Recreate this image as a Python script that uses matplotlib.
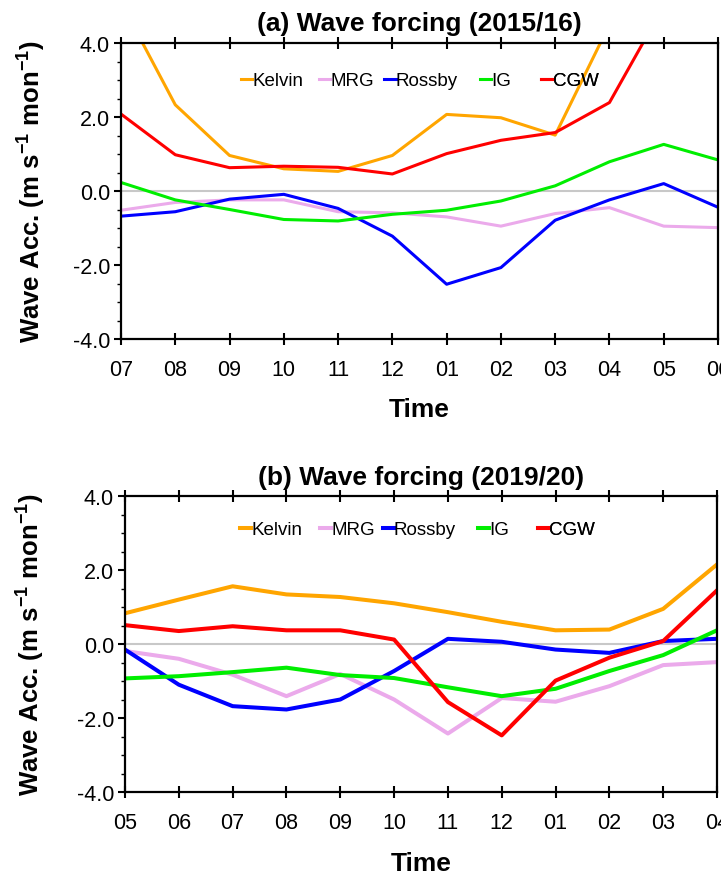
import matplotlib
matplotlib.use("Agg")
import matplotlib.pyplot as plt
from matplotlib.ticker import MultipleLocator

plt.rcParams['font.family'] = ['Liberation Sans', 'DejaVu Sans']
plt.rcParams['mathtext.fontset'] = 'custom'
plt.rcParams['mathtext.rm'] = 'Liberation Sans'
plt.rcParams['mathtext.bf'] = 'Liberation Sans:bold'

series_names = ["Kelvin", "MRG", "Rossby", "IG", "CGW"]
colors = ["#FFA500", "#EBAAEB", "#0000FF", "#00EE00", "#FF0000"]

months_a = ["07", "08", "09", "10", "11", "12", "01", "02", "03", "04", "05", "06"]
kelvin_a = [5.1, 2.33, 0.96, 0.60, 0.53, 0.96, 2.07, 1.98, 1.51, 4.5, 7.0, 8.0]
mrg_a = [-0.52, -0.31, -0.24, -0.24, -0.56, -0.59, -0.70, -0.95, -0.61, -0.45, -0.95, -0.99]
rossby_a = [-0.68, -0.56, -0.22, -0.09, -0.47, -1.22, -2.52, -2.07, -0.79, -0.24, 0.20, -0.44]
ig_a = [0.23, -0.24, -0.50, -0.77, -0.81, -0.63, -0.52, -0.27, 0.14, 0.79, 1.26, 0.84]
cgw_a = [2.08, 0.98, 0.63, 0.67, 0.64, 0.46, 1.01, 1.37, 1.58, 2.39, 5.0, 6.0]

months_b = ["05", "06", "07", "08", "09", "10", "11", "12", "01", "02", "03", "04"]
kelvin_b = [0.83, 1.20, 1.56, 1.34, 1.27, 1.10, 0.86, 0.60, 0.37, 0.39, 0.95, 2.15]
mrg_b = [-0.19, -0.40, -0.83, -1.41, -0.81, -1.50, -2.42, -1.46, -1.56, -1.14, -0.57, -0.49]
rossby_b = [-0.15, -1.10, -1.68, -1.77, -1.50, -0.73, 0.14, 0.06, -0.15, -0.24, 0.08, 0.14]
ig_b = [-0.93, -0.87, -0.76, -0.64, -0.84, -0.92, -1.17, -1.41, -1.21, -0.73, -0.30, 0.37]
cgw_b = [0.51, 0.35, 0.48, 0.37, 0.37, 0.12, -1.57, -2.47, -0.99, -0.37, 0.08, 1.45]

yticks = [-4.0, -2.0, 0.0, 2.0, 4.0]

fig = plt.figure(figsize=(7.21, 8.78), dpi=100)
ax_a = fig.add_axes([121/721, 1-340/878, 597/721, 296/878])
ax_b = fig.add_axes([125/721, 1-793/878, 592/721, 296/878])

panels = [
    (ax_a, months_a, [kelvin_a, mrg_a, rossby_a, ig_a, cgw_a], "(a) Wave forcing (2015/16)", 2.2,
     [0.201, 0.332, 0.441, 0.601, 0.704], 0.872, -0.124, 12),
    (ax_b, months_b, [kelvin_b, mrg_b, rossby_b, ig_b, cgw_b], "(b) Wave forcing (2019/20)", 2.9,
     [0.194, 0.329, 0.435, 0.596, 0.697], 0.886, -0.133, 13),
]

for ax, months, data, title, lw, leg_x, leg_y, ylab_x, tpad in panels:
    x = list(range(len(months)))
    ax.axhline(0, color="#C8C8C8", lw=1.5, zorder=1)
    lines = []
    for name, vals, c in zip(series_names, data, colors):
        ln, = ax.plot(x, vals, color=c, lw=lw, label=name, zorder=2)
        lines.append(ln)
    ax.set_xlim(0, len(months) - 1)
    ax.set_ylim(-4, 4)
    ax.set_xticks(x)
    ax.set_xticklabels(months)
    ax.set_yticks(yticks)
    ax.set_yticklabels([f"{v:.1f}" for v in yticks])
    ax.yaxis.set_minor_locator(MultipleLocator(0.5))
    ax.tick_params(axis='x', direction='inout', length=9, width=1.5, top=True,
                   labelsize=15.5, pad=10)
    ax.tick_params(axis='y', which='major', direction='out', length=5, width=1.5,
                   labelsize=15.5, pad=3)
    ax.tick_params(axis='y', which='minor', direction='out', length=3, width=1.0)
    for s in ax.spines.values():
        s.set_linewidth(1.6)
    ax.set_title(title, fontsize=19, fontweight='bold', pad=9)
    ax.set_xlabel("Time", fontsize=19, fontweight='bold', labelpad=tpad)
    ax.set_ylabel(r"Wave Acc. (m s$^{\mathbf{-1}}$ mon$^{\mathbf{-1}}$)",
                  fontsize=18.5, fontweight='bold')
    ax.yaxis.set_label_coords(ylab_x, 0.5)
    for ln, lx in zip(lines, leg_x):
        leg = ax.legend(handles=[ln], loc='center left', bbox_to_anchor=(lx, leg_y),
                        frameon=False, fontsize=13.5, handlelength=0.6,
                        handletextpad=0.0, borderpad=0.0, borderaxespad=0.0)
        ax.add_artist(leg)

fig.savefig("out.png", dpi=100)
